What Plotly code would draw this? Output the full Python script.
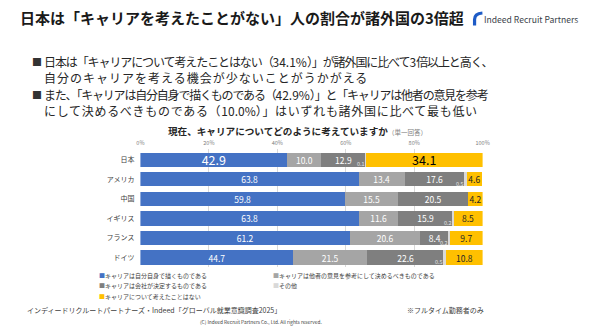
import plotly.graph_objects as go

# ---------------- data ----------------
countries = ["日本", "アメリカ", "中国", "イギリス", "フランス", "ドイツ"]
series_names = [
    "キャリアは自分自身で描くものである",
    "キャリアは他者の意見を参考にして決めるべきものである",
    "キャリアは会社が決定するものである",
    "その他",
    "キャリアについて考えたことはない",
]
self_drawn = [42.9, 63.8, 59.8, 63.8, 61.2, 44.7]
others_opinion = [10.0, 13.4, 15.5, 11.6, 20.6, 21.5]
company_decides = [12.9, 17.6, 20.5, 15.9, 8.4, 22.6]
other = [0.1, 0.5, 0.0, 0.2, 0.2, 0.5]
never_thought = [34.1, 4.6, 4.2, 8.5, 9.7, 10.8]
x_ticks = [0, 20, 40, 60, 80, 100]
x_tick_labels = ["0%", "20%", "40%", "60%", "80%", "100%"]

series_values = [self_drawn, others_opinion, company_decides, other, never_thought]
colors = ["#4472C4", "#A5A5A5", "#7F7F7F", "#D9D9D9", "#FFC000"]
label_colors = ["#FFFFFF", "#FFFFFF", "#FFFFFF", "#7F7F7F", "#262626"]

W, H = 590, 329
FONT = "Noto Sans CJK JP"


def px(x):
    return x / W


def py(y):
    return 1 - y / H


fig = go.Figure()
for i, (name, vals) in enumerate(zip(series_names, series_values)):
    if name == "その他":
        texts = [""] * len(vals)
    else:
        texts = [f"{v:.1f}" for v in vals]
    sizes = []
    tcolors = []
    for j, c in enumerate(countries):
        big = (c == "日本") and (i in (0, 4))
        sizes.append(12.5 if big else 8.5)
        tcolors.append("#000000" if (big and i == 4) else label_colors[i])
    fig.add_trace(go.Bar(
        y=countries, x=vals, name=name, orientation="h",
        marker=dict(color=colors[i], line=dict(width=0)),
        text=texts, textposition="inside", insidetextanchor="middle",
        textangle=0, constraintext="none",
        textfont=dict(family=FONT, size=sizes, color=tcolors),
        hoverinfo="skip", showlegend=False,
    ))

annotations = []
# small "その他" labels just left of their (tiny) segments, slightly low
for j, c in enumerate(countries):
    if other[j] <= 0:
        continue
    start = self_drawn[j] + others_opinion[j] + company_decides[j]
    annotations.append(dict(
        x=start, y=c, xref="x", yref="y", text=f"{other[j]:.1f}",
        showarrow=False, xanchor="right", yanchor="middle",
        xshift=1, yshift=-4.5,
        font=dict(family=FONT, size=5.5, color="#E6E6E6"),
    ))


def txt(x, y, text, size, color="#262626", xanchor="left", bold=False):
    if bold:
        text = f"<b>{text}</b>"
    annotations.append(dict(
        x=px(x), y=py(y), xref="paper", yref="paper", text=text,
        showarrow=False, xanchor=xanchor, yanchor="middle",
        font=dict(family=FONT, size=size, color=color),
    ))


def spaced(parts, ls):
    """CJK parts get letter-spacing ls; ASCII parts keep normal spacing."""
    out = []
    for p in parts:
        if all(ord(ch) < 128 for ch in p):
            out.append(p)
        else:
            out.append(f"<span style='letter-spacing:{ls}px'>{p}</span>")
    return "".join(out)


# title
txt(14, 18, "日本は「キャリアを考えたことがない」人の割合が諸外国の3倍超", 15, "#1a1a1a", bold=True)
# logo text
txt(487, 19.5, "Indeed Recruit Partners", 8.6, "#3b3f4a")

# bullets
line1 = spaced(["日本は「キャリアについて考えたことはない（", "34.1%", "）」が諸外国に比べて", "3", "倍以上と高く、"], -1.1)
line2 = spaced(["自分のキャリアを考える機会が少ないことがうかがえる"], 1.0)
line3 = spaced(["また、「キャリアは自分自身で描くものである（", "42.9%", "）」と「キャリアは他者の意見を参考"], -1.2)
line4 = spaced(["にして決めるべきものである（", "10.0%", "）」はいずれも諸外国に比べて最も低い"], 0.7)
bullet_rows = [(61, "■", line1), (77, None, line2), (94, "■", line3), (110, None, line4)]
for y, b, t in bullet_rows:
    if b:
        txt(26, y, b, 10, "#333333")
    txt(39, y, t, 12, "#262626")

# chart title
annotations.append(dict(
    x=px(165), y=py(131), xref="paper", yref="paper",
    text="<b>現在、キャリアについてどのように考えていますか</b>"
         "<span style='font-size:6.5px;color:#7F7F7F'>（単一回答）</span>",
    showarrow=False, xanchor="left", yanchor="middle",
    font=dict(family=FONT, size=9.6, color="#262626"),
))

# legend (manual, 2 columns)
legend_pos = [(95, 275), (272, 275), (95, 285.5), (272, 285.5), (95, 296)]
for (lx, ly), name, col in zip(legend_pos, series_names, colors):
    annotations.append(dict(
        x=px(lx), y=py(ly), xref="paper", yref="paper",
        text=f"<span style='color:{col}'>■</span>{name}",
        showarrow=False, xanchor="left", yanchor="middle",
        font=dict(family=FONT, size=6, color="#404040"),
    ))

# footer
txt(21, 310, "インディードリクルートパートナーズ・Indeed「グローバル就業意識調査2025」", 7, "#404040")
txt(409, 310, "※フルタイム勤務者のみ", 7, "#404040")
txt(262, 322, "(C) Indeed Recruit Partners Co., Ltd. All rights reserved.", 4.8, "#404040", xanchor="center")

# logo icon (arc)
p = [(479.5, 25.5), (479.5, 19.5), (479.5, 13.5), (487.5, 13.0)]
path = (f"M {px(p[0][0])},{py(p[0][1])} L {px(p[1][0])},{py(p[1][1])} "
        f"Q {px(p[2][0])},{py(p[2][1])} {px(p[3][0])},{py(p[3][1])}")
shapes = [dict(type="path", xref="paper", yref="paper", path=path,
               line=dict(color="#1E5BC6", width=3.2))]

fig.update_layout(
    width=W, height=H, autosize=False,
    margin=dict(l=0, r=0, t=0, b=0),
    paper_bgcolor="white", plot_bgcolor="white",
    barmode="stack", bargap=0.27,
    font=dict(family=FONT),
    xaxis=dict(
        domain=[px(139), px(487.7)], range=[0, 100], side="top",
        tickvals=x_ticks, ticktext=x_tick_labels,
        tickfont=dict(family=FONT, size=5.5, color="#808080"),
        showgrid=True, gridcolor="#D9D9D9", gridwidth=1,
        zeroline=False, showline=False, ticks="", ticklabelstandoff=2,
        fixedrange=True,
    ),
    yaxis=dict(
        domain=[py(267.4), py(149.2)],
        categoryorder="array", categoryarray=countries, autorange="reversed",
        tickfont=dict(family=FONT, size=7, color="#404040"),
        showgrid=False, zeroline=False, showline=False, ticks="",
        ticklabelstandoff=5, fixedrange=True,
    ),
    annotations=annotations,
    shapes=shapes,
)

fig.write_html("out.html")
